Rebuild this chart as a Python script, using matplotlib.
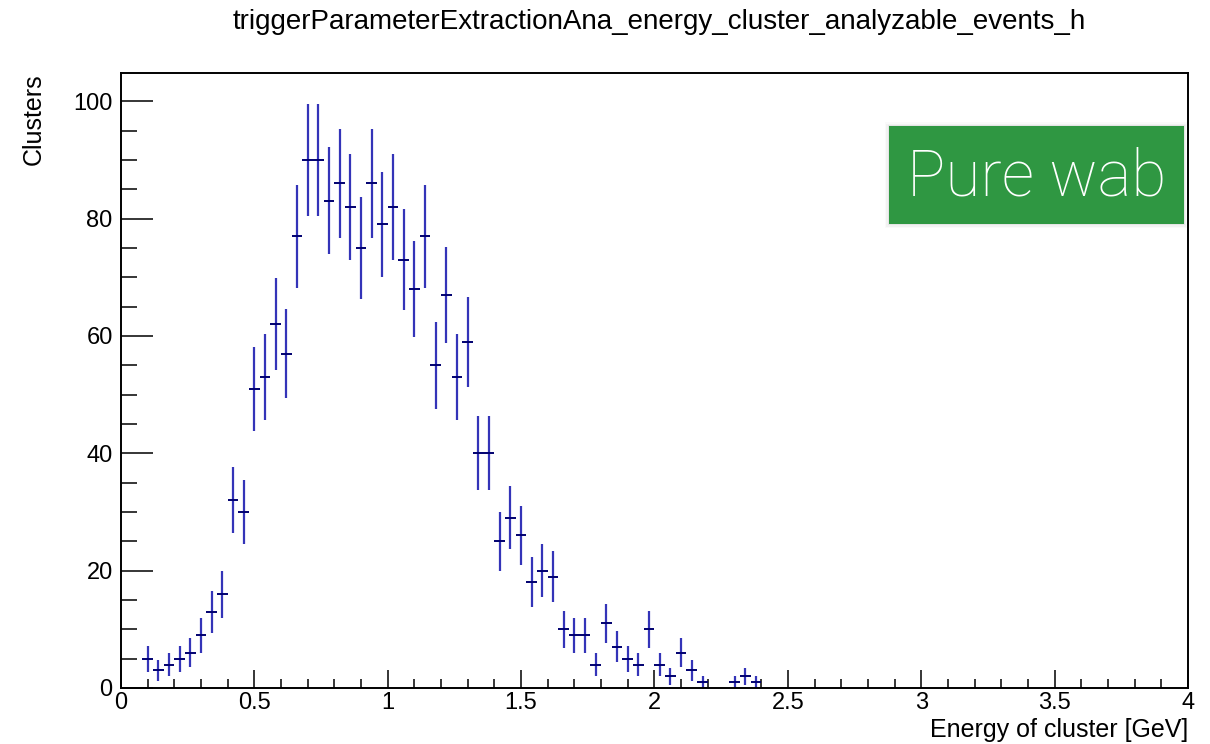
import matplotlib.pyplot as plt
from matplotlib.patches import Rectangle
import numpy as np

#==============================================================================
# data (bin width 0.04 GeV)
#==============================================================================
bin_width = 0.04
first_center = 0.10
counts = [5, 3, 4, 5, 6, 9, 13, 16, 32, 30,
          51, 53, 62, 57, 77, 90, 90, 83, 86, 82,
          75, 86, 79, 82, 73, 68, 77, 55, 67, 53,
          59, 40, 40, 25, 29, 26, 18, 20, 19, 10,
          9, 9, 4, 11, 7, 5, 4, 10, 4, 2,
          6, 3, 1, 0, 0, 1, 2, 1]

title = "triggerParameterExtractionAna_energy_cluster_analyzable_events_h"
xlabel = "Energy of cluster [GeV]"
ylabel = "Clusters"
xticks = [0, 0.5, 1, 1.5, 2, 2.5, 3, 3.5, 4]
xticklabels = ["0", "0.5", "1", "1.5", "2", "2.5", "3", "3.5", "4"]
yticks = [0, 20, 40, 60, 80, 100]
tag = "Pure wab"

#==============================================================================
# main
#==============================================================================
plt.rcParams['font.family'] = ['Liberation Sans', 'DejaVu Sans']

counts = np.array(counts, dtype=float)
centers = first_center + bin_width * np.arange(len(counts))
mask = counts > 0
x, y = centers[mask], counts[mask]
err = np.sqrt(y)

fig = plt.figure(figsize=(12.1, 7.44), dpi=100)
ax = fig.add_axes([0.1, 0.07527, 0.8818, 0.8266])

ax.errorbar(x, y, yerr=err, fmt='none', ecolor='#3434b8', elinewidth=1.6, capsize=0)
ax.errorbar(x, y, xerr=bin_width / 2, fmt='none', ecolor='#000070', elinewidth=1.4, capsize=0)

ax.set_xlim(0, 4)
ax.set_ylim(0, 104.8)
ax.set_xticks(xticks)
ax.set_xticklabels(xticklabels)
ax.set_xticks(np.arange(0, 4.01, 0.1), minor=True)
ax.set_yticks(yticks)
ax.set_yticks(np.arange(0, 105, 5), minor=True)

ax.tick_params(axis='both', which='both', direction='in', top=False, right=False,
               labelsize=17, width=1.1, color='black')
ax.tick_params(axis='x', which='major', length=13, pad=3)
ax.tick_params(axis='x', which='minor', length=6.5)
ax.tick_params(axis='y', which='major', length=23, pad=6)
ax.tick_params(axis='y', which='minor', length=11.5)
for s in ax.spines.values():
    s.set_linewidth(1.4)

fig.text(0.545, 0.970, title, ha='center', va='center', fontsize=20)
fig.text(0.9818, 0.0185, xlabel, ha='right', va='center', fontsize=18)
fig.text(0.0275, 0.9019, ylabel, ha='center', va='top', rotation=90, fontsize=18)

#==============================================================================
#  tag box
#==============================================================================
for k, a in [(4, 0.02), (2.5, 0.03), (1, 0.05)]:
    fig.patches.append(Rectangle((0.7347 - k / 1210, 0.6989 - k / 744),
                                 0.2438 + 2 * k / 1210, 0.1317 + 2 * k / 744,
                                 transform=fig.transFigure, facecolor='black',
                                 alpha=a, edgecolor='none'))
fig.patches.append(Rectangle((0.7347, 0.6989), 0.2438, 0.1317,
                             transform=fig.transFigure, facecolor='#2f9742',
                             edgecolor='none'))
fig.text(0.857, 0.762, tag, ha='center', va='center', fontsize=46,
         color='white', family=['Roboto', 'DejaVu Sans'], fontweight='light')

plt.savefig("out.png", dpi=100)
